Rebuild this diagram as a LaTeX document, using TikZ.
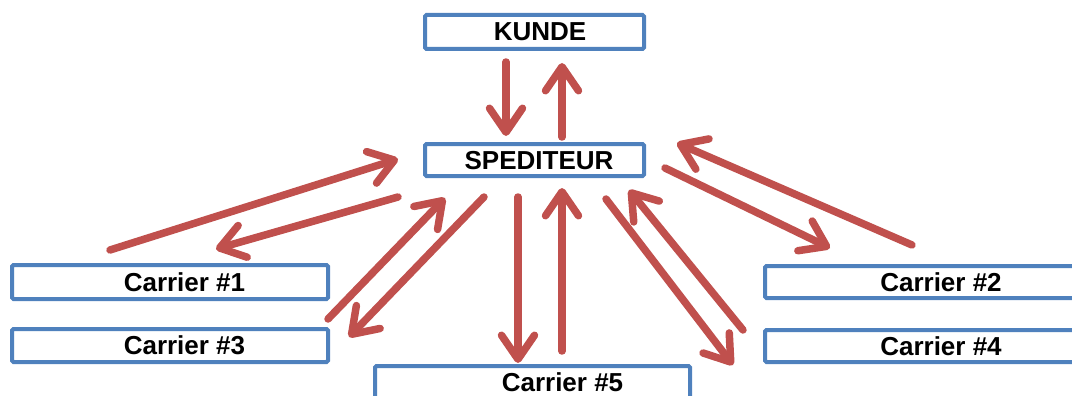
\documentclass[tikz,border=0pt]{standalone}
\usepackage{fontspec}
\setmainfont{Liberation Sans}
\usetikzlibrary{arrows.meta}
\definecolor{boxblue}{HTML}{4F81BD}
\definecolor{arrowred}{HTML}{C0504D}

\begin{document}
\begin{tikzpicture}[x=1pt,y=-1pt,
  party/.style={draw=boxblue, line width=4pt, rounded corners=1.5pt, fill=white,
    inner sep=0pt, text depth=0pt, font=\fontsize{26}{30}\selectfont\bfseries},
  flow/.style={draw=arrowred, line width=7.5pt, line cap=round, line join=round,
    -{Straight Barb[length=24pt,width=33pt,round]},
    preaction={draw=black, draw opacity=0.12, transform canvas={shift={(1.5pt,-2pt)}}}}]
\useasboundingbox (0,0) rectangle (1072,396);

% parties
\node[party, minimum width=219pt, minimum height=34pt] (kunde)     at (534.5,32)   {\hspace*{11pt}KUNDE};
\node[party, minimum width=219pt, minimum height=32pt] (spediteur) at (534.5,160)  {\hspace*{9pt}SPEDITEUR};
\node[party, minimum width=316pt, minimum height=34pt] (carrier1)  at (170,282)    {\hspace*{29pt}Carrier \#1};
\node[party, minimum width=316pt, minimum height=33pt] (carrier3)  at (170,345.5)  {\hspace*{29pt}Carrier \#3};
\node[party, minimum width=316pt, minimum height=32pt] (carrier2)  at (923,282)    {\hspace*{36pt}Carrier \#2};
\node[party, minimum width=316pt, minimum height=32pt] (carrier4)  at (923,346)    {\hspace*{36pt}Carrier \#4};
\node[party, minimum width=315pt, minimum height=33pt] (carrier5)  at (532.5,382.5){\hspace*{60pt}Carrier \#5};

% arrow end points
\coordinate (k-out) at (506,62);   \coordinate (s-in-k)  at (506,136);
\coordinate (s-out-k) at (562,137); \coordinate (k-in)   at (562,63);
\coordinate (c1-out) at (110,250); \coordinate (s-in-1)  at (398,159);
\coordinate (s-out-1) at (398,197); \coordinate (c1-in)  at (216,249);
\coordinate (c3-out) at (328,319); \coordinate (s-in-3)  at (445,198);
\coordinate (s-out-3) at (484,197); \coordinate (c3-in)  at (349,337);
\coordinate (s-out-5) at (518,197); \coordinate (c5-in)  at (518,363);
\coordinate (c5-out) at (562,351); \coordinate (s-in-5)  at (562,188);
\coordinate (s-out-4) at (606,199); \coordinate (c4-in)  at (733,365);
\coordinate (c4-out) at (743,330); \coordinate (s-in-4)  at (629,190);
\coordinate (s-out-2) at (665,168); \coordinate (c2-in)  at (830,248);
\coordinate (c2-out) at (912,245); \coordinate (s-in-2)  at (677,143);

% flows
\draw[flow] (k-out) -- (s-in-k);
\draw[flow] (s-out-k) -- (k-in);
\draw[flow] (c1-out) -- (s-in-1);
\draw[flow] (s-out-1) -- (c1-in);
\draw[flow] (c3-out) -- (s-in-3);
\draw[flow] (s-out-3) -- (c3-in);
\draw[flow] (s-out-5) -- (c5-in);
\draw[flow] (c5-out) -- (s-in-5);
\draw[flow] (s-out-4) -- (c4-in);
\draw[flow] (c4-out) -- (s-in-4);
\draw[flow] (s-out-2) -- (c2-in);
\draw[flow] (c2-out) -- (s-in-2);
\end{tikzpicture}
\end{document}
